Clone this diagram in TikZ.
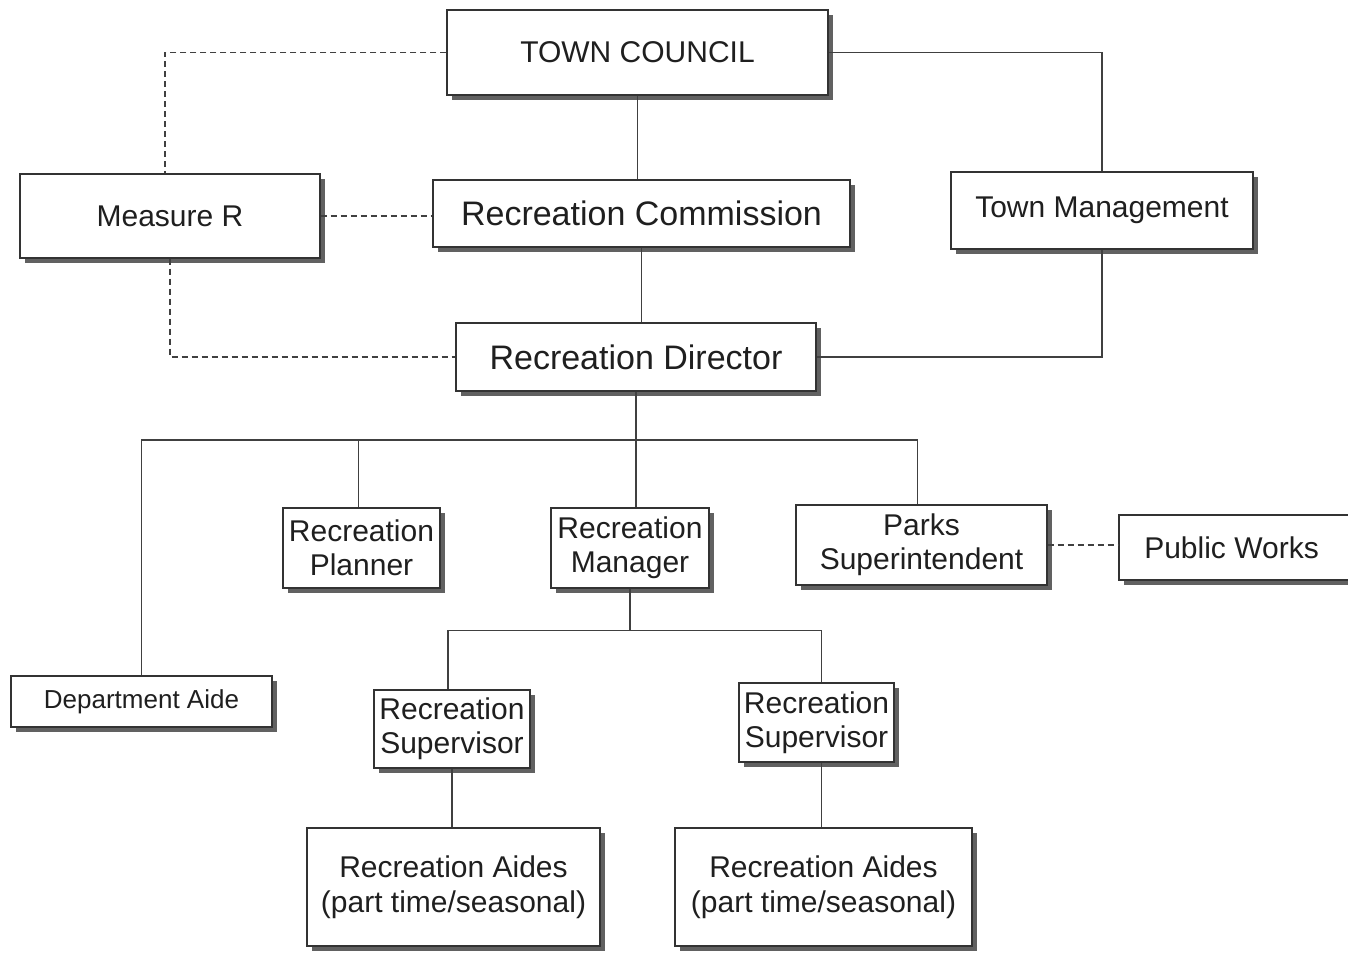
\documentclass[tikz,border=0pt]{standalone}
\usepackage{fontspec}
\setmainfont{Liberation Sans}
\usetikzlibrary{shadows}
\begin{document}
\begin{tikzpicture}[x=1pt,y=-1pt,
  box/.style={draw=black!80,line width=1.3pt,fill=white,inner sep=0pt,align=center,
    text=black!88,font=\fontsize{30}{34}\selectfont,
    drop shadow={shadow xshift=5pt,shadow yshift=-5pt,fill=black!62,opacity=1}},
  big/.style={font=\fontsize{34}{38}\selectfont},
  small/.style={font=\fontsize{26}{30}\selectfont},
  loose/.style={font=\fontsize{30}{35}\selectfont},
  link/.style={draw=black!75,line width=1.2pt},
  dlink/.style={link,dash pattern=on 6pt off 4pt}]
\useasboundingbox (0,0) rectangle (1348,953);

% boxes
\node[box,minimum width=381pt,minimum height=85pt] (tc) at (637.5,52.5) {TOWN COUNCIL};
\node[box,minimum width=300pt,minimum height=84pt] (mr) at (170,216) {Measure R};
\node[box,big,minimum width=417pt,minimum height=67pt] (rc) at (641.5,213.5) {Recreation Commission};
\node[box,minimum width=302pt,minimum height=77pt] (tm) at (1102,210.5) {Town Management};
\node[box,big,minimum width=360pt,minimum height=68pt] (rd) at (636,357) {Recreation Director};
\node[box,minimum width=157pt,minimum height=80pt] (rp) at (361.5,548) {Recreation\\Planner};
\node[box,minimum width=158pt,minimum height=80pt] (rm) at (630,548) {Recreation\\Manager};
\node[box,minimum width=251pt,minimum height=80pt] (ps) at (921.5,545) {Parks\\Superintendent};
% this box runs past the right edge of the page
\node[box,minimum width=241pt,minimum height=65pt] (pw) at (1239.5,547.5) {\hspace*{-16pt}Public Works};
\node[box,small,minimum width=261pt,minimum height=51pt] (da) at (141.5,701.5) {Department Aide};
\node[box,minimum width=156pt,minimum height=78pt] (rs1) at (452,729) {Recreation\\Supervisor};
\node[box,minimum width=155pt,minimum height=79pt] (rs2) at (816.5,722.5) {Recreation\\Supervisor};
\node[box,loose,minimum width=293pt,minimum height=118pt] (ra1) at (453.5,887) {Recreation Aides\\(part time/seasonal)};
\node[box,loose,minimum width=297pt,minimum height=118pt] (ra2) at (823.5,887) {Recreation Aides\\(part time/seasonal)};

% solid reporting lines
\draw[link] (tc.south) -- (tc.south |- rc.north);
\draw[link] (rc.south) -- (rc.south |- rd.north);
\draw[link] (tc.east) -| (tm.north);
\draw[link] (tm.south) |- (rd.east);
\draw[link] (rd.south) -- (rd.south |- rm.north);
\coordinate (bar1) at (636,440);
\draw[link] (da.north) |- ([xshift=-4pt]ps.north |- bar1) -- ([xshift=-4pt]ps.north);
\draw[link] ([xshift=-3pt]rp.north) -- ([xshift=-3pt]rp.north |- bar1);
\draw[link] (rm.south) -- ++(0,42) coordinate (bar2);
\draw[link] ([xshift=-4pt]rs1.north) |- ([xshift=5pt]rs2.north |- bar2) -- ([xshift=5pt]rs2.north);
\draw[link] (rs1.south) -- (rs1.south |- ra1.north);
\draw[link] ([xshift=5pt]rs2.south) -- ([xshift=5pt]rs2.south |- ra2.north);

% dashed advisory lines
\draw[dlink] (tc.west) -| ([xshift=-5pt]mr.north);
\draw[dlink] (mr.east) -- (mr.east -| rc.west);
\draw[dlink] (mr.south) |- (rd.west);
\draw[dlink] (ps.east) -- (ps.east -| pw.west);
\end{tikzpicture}
\end{document}
